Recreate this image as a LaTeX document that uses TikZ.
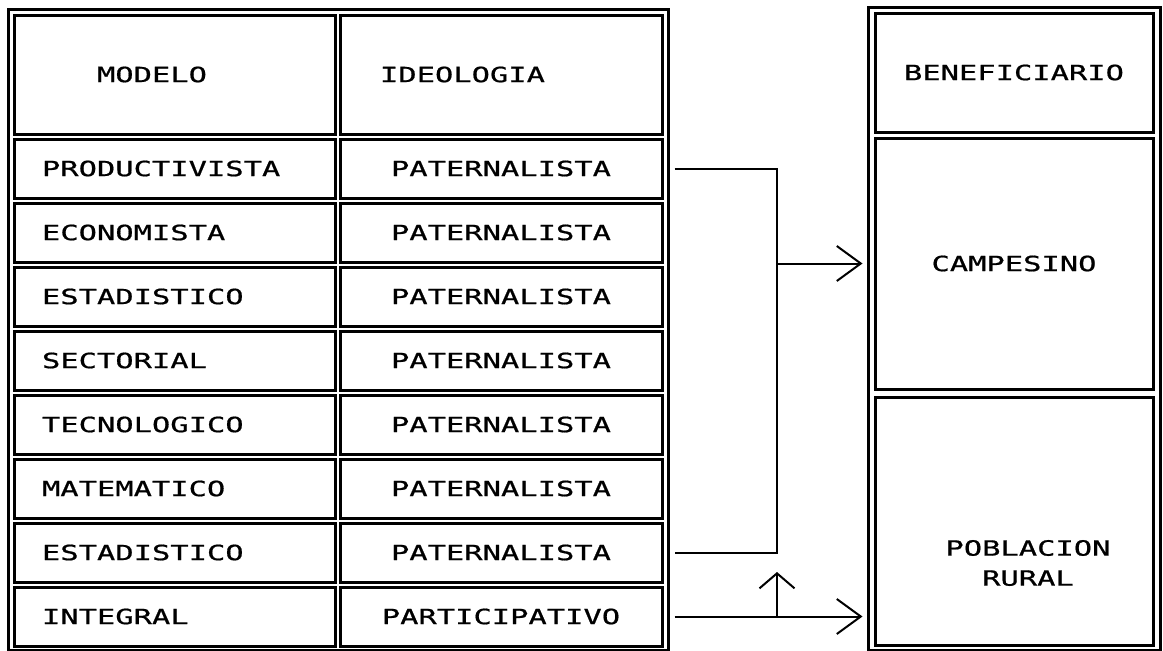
\documentclass[tikz,border=0pt]{standalone}
\usepackage{fontspec}
\usepackage{tikz}
\usetikzlibrary{arrows.meta}
\newfontfamily\dosfont[FakeStretch=1.45,FakeBold=0.8]{DejaVu Sans Mono}

\begin{document}
\begin{tikzpicture}[x=1pt,y=-1pt,
    celda/.style={draw,line width=3pt,inner sep=0pt,
      font=\dosfont\fontsize{21}{30}\selectfont},
    modelo/.style={celda,minimum width=321pt,minimum height=59pt,text width=265pt,align=left},
    ideologia/.style={celda,minimum width=322pt,minimum height=59pt},
    benef/.style={celda,minimum width=278pt},
    marco/.style={line width=3pt},
    linea/.style={line width=2pt},
    flecha/.style={linea,-{Straight Barb[length=24pt,width=35pt]}},
    flechaup/.style={linea,-{Straight Barb[length=15pt,width=35pt]}}]
    \useasboundingbox (0,0) rectangle (1163,651);

    \draw[marco] (8,9) rectangle (668,650);
    \draw[marco] (868,7) rectangle (1160,650);

    \node[celda,minimum width=321pt,minimum height=119pt,text width=155pt,align=left](hmod)at(174.5,74.5){MODELO};
    \node[celda,minimum width=322pt,minimum height=119pt,text width=242pt,align=left](hide)at(501,74.5){IDEOLOGIA};

    \node[modelo](m1)at(174.5,168.5){PRODUCTIVISTA};
    \node[modelo](m2)at(174.5,232.5){ECONOMISTA};
    \node[modelo](m3)at(174.5,296.5){ESTADISTICO};
    \node[modelo](m4)at(174.5,360.5){SECTORIAL};
    \node[modelo](m5)at(174.5,424.5){TECNOLOGICO};
    \node[modelo](m6)at(174.5,488.5){MATEMATICO};
    \node[modelo](m7)at(174.5,552.5){ESTADISTICO};
    \node[modelo](m8)at(174.5,616.5){INTEGRAL};

    \node[ideologia](i1)at(501,168.5){PATERNALISTA};
    \node[ideologia](i2)at(501,232.5){PATERNALISTA};
    \node[ideologia](i3)at(501,296.5){PATERNALISTA};
    \node[ideologia](i4)at(501,360.5){PATERNALISTA};
    \node[ideologia](i5)at(501,424.5){PATERNALISTA};
    \node[ideologia](i6)at(501,488.5){PATERNALISTA};
    \node[ideologia](i7)at(501,552.5){PATERNALISTA};
    \node[ideologia](i8)at(501,616.5){PARTICIPATIVO};

    \node[benef,minimum height=119pt](hben)at(1014,72.5){BENEFICIARIO};
    \node[benef,minimum height=251pt](camp)at(1014,263.5){CAMPESINO};
    \node[benef,minimum height=248pt](pobl)at(1014,521){};
    \node[celda,draw=none,align=center](poblt)at(1028,563){POBLACION\\RURAL};

    \coordinate (bus) at (777,0);
    \coordinate (tope) at (777,572);

    \draw[linea] ([xshift=11pt]i1.east) -| (bus |- i7.east) -- ([xshift=11pt]i7.east);
    \draw[flecha] (bus |- camp.west) -- ([xshift=-11pt]camp.west);
    \draw[flecha] ([xshift=11pt]i8.east) -- ([xshift=-11pt]pobl.west |- i8.east);
    \draw[flechaup] (bus |- i8.east) -- (tope);
  \end{tikzpicture}
\end{document}
